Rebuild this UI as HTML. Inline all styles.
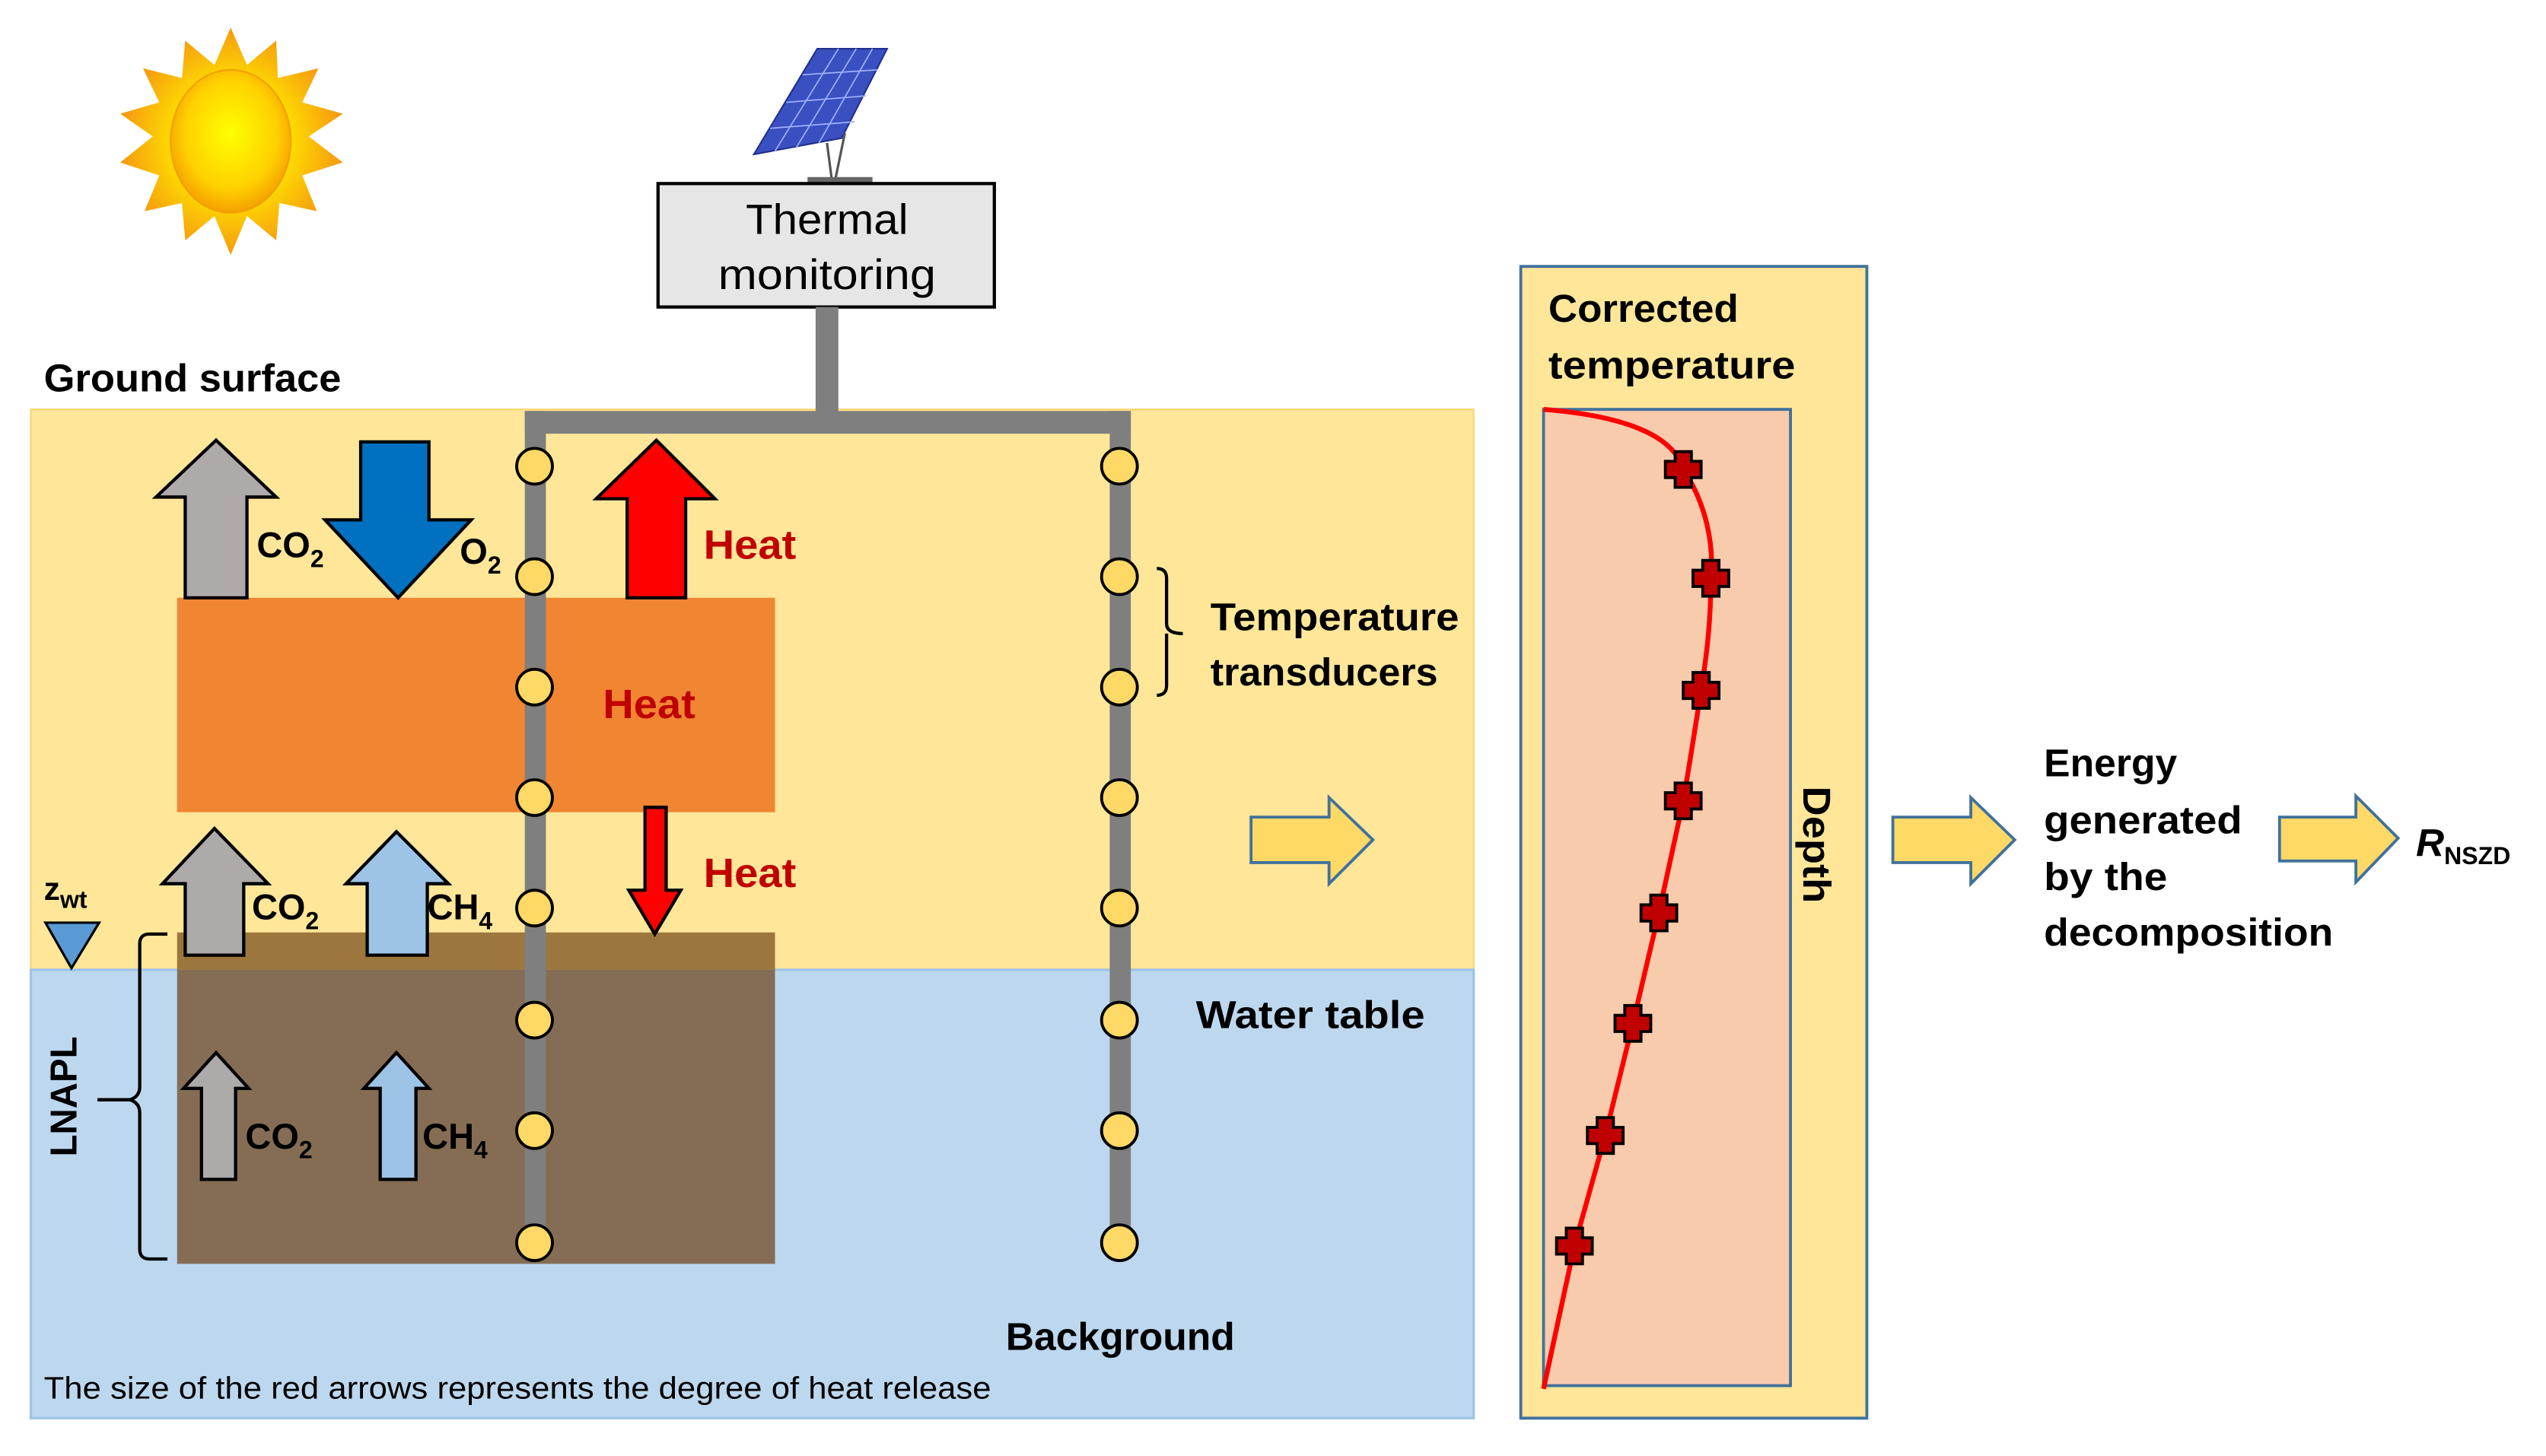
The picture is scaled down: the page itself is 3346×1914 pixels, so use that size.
<!DOCTYPE html>
<html><head><meta charset="utf-8"><style>html,body{margin:0;padding:0;background:#fff}svg{display:block}</style></head>
<body>
<svg width="3346" height="1914" viewBox="0 0 1567 896.3" preserveAspectRatio="none" xmlns="http://www.w3.org/2000/svg" font-family="Liberation Sans, sans-serif">
<defs>
<radialGradient id="sg" cx="50%" cy="45%" r="55%"><stop offset="0" stop-color="#ffff00"/><stop offset="0.7" stop-color="#ffd000"/><stop offset="1" stop-color="#f5a000"/></radialGradient>
<radialGradient id="rg" cx="50%" cy="50%" r="50%"><stop offset="0.5" stop-color="#ffe000"/><stop offset="1" stop-color="#f59a10"/></radialGradient>
<g id="dot"><ellipse rx="11" ry="11" fill="#FFD966" stroke="#000" stroke-width="1.8"/></g>
<g id="cr"><path d="M-5,-11 H5 V-5 H11 V5 H5 V11 H-5 V5 H-11 V-5 H-5 Z" fill="#C00000" stroke="#000" stroke-width="1.8"/></g>
</defs>
<!-- sun -->
<polygon fill="url(#rg)" points="142,17 152,40 170,25 171,48 196,42 186,63 211,70 190,84 211,100 186,108 195,130 172,125 170,148 152,133 142,157 132,133 114,148 112,125 89,130 98,108 74,100 94,84 74,70 98,63 88,42 112,48 114,25 132,40"/>
<ellipse cx="142" cy="87" rx="37" ry="44" fill="url(#sg)" stroke="#f0a000" stroke-width="1"/>
<!-- solar panel -->
<polygon points="464,95 503,30 546,30 518,85" fill="#3a4fc0" stroke="#223090" stroke-width="1"/>
<g stroke="#9fb0ff" stroke-width="0.8" fill="none">
<line x1="474" y1="79" x2="526" y2="75"/><line x1="484" y1="63" x2="533" y2="59"/><line x1="494" y1="46" x2="540" y2="43"/>
<line x1="477" y1="93" x2="516" y2="30"/><line x1="490" y1="91" x2="527" y2="30"/><line x1="504" y1="88" x2="537" y2="30"/>
</g>
<line x1="509" y1="88" x2="512" y2="111" stroke="#555" stroke-width="1.5"/><line x1="520" y1="82" x2="514" y2="111" stroke="#555" stroke-width="1.5"/>
<rect x="497" y="109" width="40" height="4" fill="#666"/>
<!-- thermal box -->
<rect x="405" y="113" width="207" height="76" fill="#E6E6E6" stroke="#000" stroke-width="2"/>
<text x="509" y="144" font-size="26" text-anchor="middle" textLength="100" lengthAdjust="spacingAndGlyphs">Thermal</text>
<text x="509" y="178" font-size="26" text-anchor="middle" textLength="134" lengthAdjust="spacingAndGlyphs">monitoring</text>
<text x="27" y="241" font-size="24" font-weight="bold" textLength="183" lengthAdjust="spacingAndGlyphs">Ground surface</text>
<!-- ground & water -->
<rect x="19" y="252" width="888" height="345" fill="#FFE699" stroke="#f8d670" stroke-width="1"/>
<rect x="19" y="597" width="888" height="276" fill="#BDD7EE" stroke="#9dc3e6" stroke-width="1.5"/>
<rect x="109" y="368" width="368" height="132" fill="#F08532"/>
<rect x="109" y="574" width="368" height="23" fill="#9c763c"/>
<rect x="109" y="597" width="368" height="181" fill="#856D55"/>
<!-- pipes -->
<rect x="502" y="189" width="14" height="70" fill="#7f7f7f"/>
<rect x="323" y="253" width="373" height="14" fill="#7f7f7f"/>
<rect x="323" y="253" width="13" height="512" fill="#7f7f7f"/>
<rect x="683" y="253" width="13" height="512" fill="#7f7f7f"/>
<g>
<use href="#dot" x="329" y="287"/><use href="#dot" x="329" y="355"/><use href="#dot" x="329" y="423"/><use href="#dot" x="329" y="491"/><use href="#dot" x="329" y="559"/><use href="#dot" x="329" y="628"/><use href="#dot" x="329" y="696"/><use href="#dot" x="329" y="765"/>
<use href="#dot" x="689" y="287"/><use href="#dot" x="689" y="355"/><use href="#dot" x="689" y="423"/><use href="#dot" x="689" y="491"/><use href="#dot" x="689" y="559"/><use href="#dot" x="689" y="628"/><use href="#dot" x="689" y="696"/><use href="#dot" x="689" y="765"/>
</g>
<!-- arrows -->
<g stroke="#000" stroke-width="2" stroke-linejoin="miter">
<polygon points="133,271 170,306 152,306 152,368 114,368 114,306 96,306" fill="#AEAAAA"/>
<polygon points="222,272 264,272 264,320 290,320 245,368 200,320 222,320" fill="#0070C0"/>
<polygon points="404,271 440,307 422,307 422,368 386,368 386,307 367,307" fill="#FF0000"/>
<polygon points="397,497 410,497 410,548 419,548 403,575 387,548 397,548" fill="#FF0000"/>
<polygon points="132,510 165,544 150,544 150,588 114,588 114,544 100,544" fill="#AEAAAA"/>
<polygon points="244,512 276,544 263,544 263,588 226,588 226,544 213,544" fill="#9DC3E6"/>
<polygon points="133,648 153,670 145,670 145,726 124,726 124,670 113,670" fill="#AEAAAA"/>
<polygon points="244,648 264,670 256,670 256,726 234,726 234,670 224,670" fill="#9DC3E6"/>
</g>
<g font-size="22" font-weight="bold">
<text x="158" y="343">CO<tspan font-size="15" dy="6">2</tspan></text>
<text x="283" y="347">O<tspan font-size="15" dy="6">2</tspan></text>
<text x="155" y="566">CO<tspan font-size="15" dy="6">2</tspan></text>
<text x="263" y="566">CH<tspan font-size="15" dy="6">4</tspan></text>
<text x="151" y="707">CO<tspan font-size="15" dy="6">2</tspan></text>
<text x="260" y="707">CH<tspan font-size="15" dy="6">4</tspan></text>
<text x="433" y="344" fill="#C00000" font-size="25" textLength="57" lengthAdjust="spacingAndGlyphs">Heat</text>
<text x="371" y="442" fill="#C00000" font-size="25" textLength="57" lengthAdjust="spacingAndGlyphs">Heat</text>
<text x="433" y="546" fill="#C00000" font-size="25" textLength="57" lengthAdjust="spacingAndGlyphs">Heat</text>
<text x="27" y="554" font-size="20">z<tspan font-size="15" dy="5">wt</tspan></text>
<text x="0" y="0" transform="translate(47,712) rotate(-90)" font-size="23" textLength="74" lengthAdjust="spacingAndGlyphs">LNAPL</text>
</g>
<polygon points="28,568 61,568 44,596" fill="#5B9BD5" stroke="#000" stroke-width="1.5"/>
<path d="M103,575 H92 Q86,575 86,581 V669 Q86,675 80,677 H60 M80,677 Q86,679 86,685 V769 Q86,775 92,775 H103" fill="none" stroke="#000" stroke-width="2"/>
<path d="M712,350 Q718,350 718,356 V384 Q718,390 728,390 M718,390 V422 Q718,428 712,428" fill="none" stroke="#000" stroke-width="2"/>
<g font-size="24" font-weight="bold">
<text x="745" y="388" textLength="153" lengthAdjust="spacingAndGlyphs">Temperature</text>
<text x="745" y="422" textLength="140" lengthAdjust="spacingAndGlyphs">transducers</text>
<text x="736" y="633" textLength="141" lengthAdjust="spacingAndGlyphs">Water table</text>
<text x="619" y="831" textLength="141" lengthAdjust="spacingAndGlyphs">Background</text>
</g>
<text x="27" y="861" font-size="19" textLength="583" lengthAdjust="spacingAndGlyphs">The size of the red arrows represents the degree of heat release</text>
<!-- outline arrows -->
<g fill="#FFD966" stroke="#41719C" stroke-width="1.8">
<polygon points="770,503 818,503 818,491 845,517 818,544 818,531 770,531"/>
<polygon points="1165,503 1213,503 1213,491 1240,517 1213,544 1213,531 1165,531"/>
<polygon points="1403,503 1450,503 1450,490 1476,516 1450,543 1450,530 1403,530"/>
</g>
<!-- right panel -->
<rect x="936" y="164" width="213" height="709" fill="#FFE699" stroke="#41719C" stroke-width="1.8"/>
<rect x="950" y="252" width="152" height="601" fill="#F8CBAD" stroke="#41719C" stroke-width="1.8"/>
<g font-size="24" font-weight="bold">
<text x="953" y="198" textLength="117" lengthAdjust="spacingAndGlyphs">Corrected</text>
<text x="953" y="233" textLength="152" lengthAdjust="spacingAndGlyphs">temperature</text>
<text x="0" y="0" transform="translate(1110,484) rotate(90)" textLength="72" lengthAdjust="spacingAndGlyphs">Depth</text>
<text x="1258" y="478" textLength="82" lengthAdjust="spacingAndGlyphs">Energy</text>
<text x="1258" y="513" textLength="122" lengthAdjust="spacingAndGlyphs">generated</text>
<text x="1258" y="548" textLength="76" lengthAdjust="spacingAndGlyphs">by the</text>
<text x="1258" y="582" textLength="178" lengthAdjust="spacingAndGlyphs">decomposition</text>
<text x="1487" y="527" font-style="italic">R<tspan font-size="15" font-style="normal" dy="5">NSZD</tspan></text>
</g>
<path d="M950,252 C1000,256 1030,268 1036,289 C1050,310 1055,335 1053,356 C1053,380 1051,400 1047,425 C1043,450 1040,470 1036,493 L1021,562 L1005,630 L988,699 L969,767 L950,855" fill="none" stroke="#FF0000" stroke-width="3"/>
<g>
<use href="#cr" x="1036" y="289"/><use href="#cr" x="1053" y="356"/><use href="#cr" x="1047" y="425"/><use href="#cr" x="1036" y="493"/><use href="#cr" x="1021" y="562"/><use href="#cr" x="1005" y="630"/><use href="#cr" x="988" y="699"/><use href="#cr" x="969" y="767"/>
</g>
</svg>
</body></html>
